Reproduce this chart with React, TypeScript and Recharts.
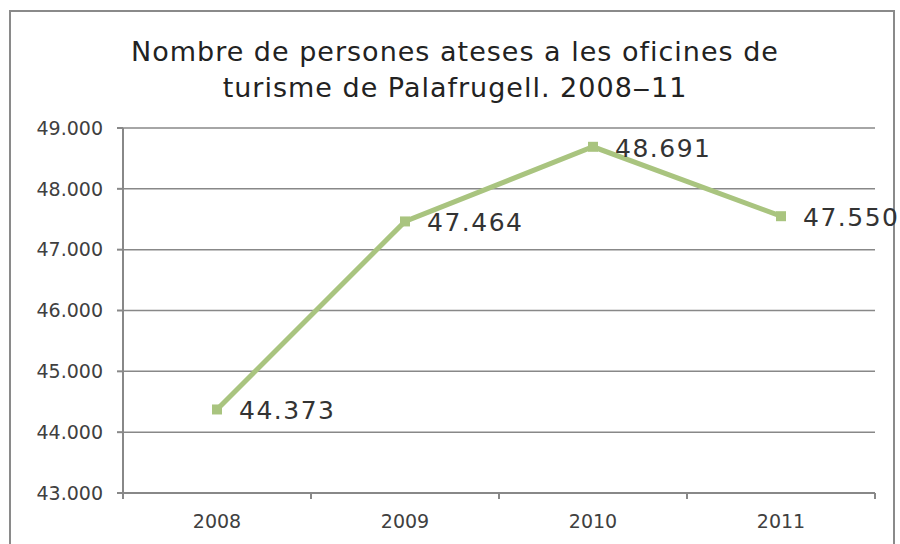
import { LineChart, Line, XAxis, YAxis, CartesianGrid, LabelList } from 'recharts'

const years = ['2008', '2009', '2010', '2011']
const visitors = [44373, 47464, 48691, 47550]
const yTicks = [43000, 44000, 45000, 46000, 47000, 48000, 49000]

const data = years.map((year, i) => ({ year, visitors: visitors[i] }))

const FONT = '"DejaVu Sans", sans-serif'
const GREEN = '#A9C47F'
const GREY = '#888888'

const fmt = (v: number) => v.toLocaleString('de-DE')

const SquareDot = (props: any) => {
  const { cx, cy } = props
  if (cx == null || cy == null) return null
  return <rect x={cx - 5} y={cy - 5} width={10} height={10} fill={GREEN} />
}

const YearTick = (props: any) => {
  const { x, payload, index, width, visibleTicksCount } = props
  const half = width / (2 * visibleTicksCount)
  const axisY = 493
  return (
    <g>
      <line x1={x - half} y1={axisY} x2={x - half} y2={axisY + 6} stroke={GREY} strokeWidth={2} />
      {index === visibleTicksCount - 1 && (
        <line x1={x + half} y1={axisY} x2={x + half} y2={axisY + 6} stroke={GREY} strokeWidth={2} />
      )}
      <text x={x} y={axisY + 35} textAnchor="middle" fill="#404040" fontSize={19} fontFamily={FONT}>
        {payload.value}
      </text>
    </g>
  )
}

const ValueLabel = (props: any) => {
  const { x, y, value } = props
  return (
    <text x={x + 22} y={y + 10} fill="#333" fontSize={25} fontFamily={FONT} letterSpacing={1.5}>
      {fmt(value)}
    </text>
  )
}

export default function App() {
  return (
    <div style={{ position: 'absolute', left: 0, top: 0, width: 900, height: 544, background: '#fff', overflow: 'hidden' }}>
      <div
        style={{
          position: 'absolute',
          left: 9,
          top: 10,
          width: 882,
          height: 540,
          border: '2px solid #8a8a8a',
          borderBottom: 'none',
        }}
      />
      <div
        style={{
          position: 'absolute',
          left: 0,
          top: 34,
          width: 910,
          textAlign: 'center',
          fontFamily: FONT,
          fontSize: 27,
          lineHeight: '36px',
          color: '#222',
          letterSpacing: 1,
        }}
      >
        Nombre de persones ateses a les oficines de
        <br />
        turisme de Palafrugell. 2008‒11
      </div>
      <div style={{ position: 'absolute', left: 0, top: 0 }}>
        <LineChart width={900} height={544} data={data} margin={{ top: 128, right: 25, bottom: 0, left: 0 }}>
          <CartesianGrid horizontal vertical={false} stroke={GREY} strokeWidth={1.5} />
          <XAxis
            dataKey="year"
            scale="band"
            height={51}
            tickLine={false}
            axisLine={{ stroke: GREY, strokeWidth: 2 }}
            tick={<YearTick />}
            interval={0}
          />
          <YAxis
            width={123}
            domain={[43000, 49000]}
            ticks={yTicks}
            tickFormatter={fmt}
            tickSize={6}
            tickLine={{ stroke: GREY, strokeWidth: 2 }}
            axisLine={{ stroke: GREY, strokeWidth: 2 }}
            tick={{ fill: '#404040', fontSize: 19, fontFamily: FONT }}
            tickMargin={14}
            allowDataOverflow
          />
          <Line
            dataKey="visitors"
            stroke={GREEN}
            strokeWidth={5}
            dot={<SquareDot />}
            activeDot={false}
            isAnimationActive={false}
          >
            <LabelList dataKey="visitors" content={<ValueLabel />} />
          </Line>
        </LineChart>
      </div>
    </div>
  )
}
